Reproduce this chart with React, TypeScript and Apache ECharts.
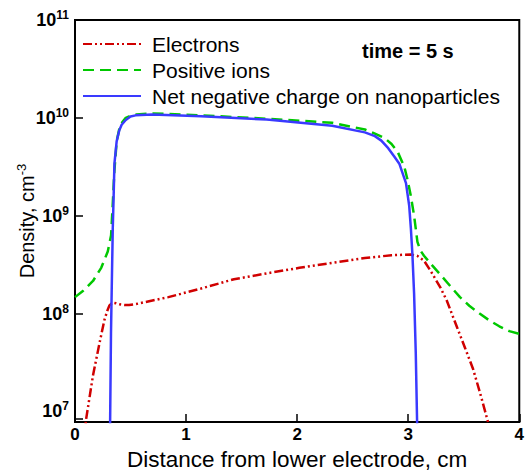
import React, { useEffect, useRef } from "react";
import * as echarts from "echarts";

// x in cm, density in cm^-3
const electronsX = [0.08, 0.1, 0.162, 0.221, 0.265, 0.29, 0.31, 0.339, 0.37, 0.4, 0.45, 0.487, 0.55, 0.634, 0.841, 1.135, 1.431, 1.726, 2.02, 2.316, 2.61, 2.85, 2.95, 3.024, 3.08, 3.142, 3.2, 3.289, 3.348, 3.437, 3.51, 3.584, 3.65, 3.717, 3.75];
const electronsY = [5.0e6, 8.3e6, 2.33e7, 5.0e7, 8.6e7, 1.06e8, 1.21e8, 1.29e8, 1.27e8, 1.24e8, 1.22e8, 1.22e8, 1.25e8, 1.31e8, 1.47e8, 1.8e8, 2.24e8, 2.57e8, 2.93e8, 3.29e8, 3.69e8, 3.94e8, 3.98e8, 4.0e8, 3.9e8, 3.47e8, 2.75e8, 1.85e8, 1.35e8, 7.36e7, 4.5e7, 2.71e7, 1.5e7, 7.9e6, 5.6e6];

const ionsX = [0, 0.074, 0.162, 0.236, 0.295, 0.325, 0.339, 0.354, 0.375, 0.4, 0.425, 0.457, 0.5, 0.55, 0.7, 1.135, 1.726, 2.316, 2.61, 2.7, 2.788, 2.85, 2.906, 2.965, 2.994, 3.024, 3.053, 3.083, 3.11, 3.142, 3.2, 3.289, 3.38, 3.466, 3.55, 3.643, 3.73, 3.82, 3.91, 4.0];
const ionsY = [1.47e8, 1.71e8, 2.15e8, 2.93e8, 4.3e8, 6.3e8, 1.26e9, 2.8e9, 5.75e9, 7.8e9, 9.0e9, 1.0e10, 1.05e10, 1.08e10, 1.11e10, 1.06e10, 9.8e9, 8.9e9, 7.6e9, 6.9e9, 6.2e9, 5.4e9, 4.47e9, 3.16e9, 2.33e9, 1.58e9, 1.0e9, 5.4e8, 4.4e8, 3.9e8, 3.25e8, 2.5e8, 1.9e8, 1.47e8, 1.2e8, 1.0e8, 8.5e7, 7.4e7, 6.6e7, 6.2e7];

const netX = [0.313, 0.324, 0.33, 0.34, 0.348, 0.355, 0.375, 0.398, 0.42, 0.457, 0.5, 0.546, 0.693, 1.135, 1.726, 2.316, 2.61, 2.7, 2.758, 2.82, 2.876, 2.92, 2.98, 3.009, 3.024, 3.038, 3.053, 3.068, 3.085];
const netY = [3.2e6, 6.3e7, 1.6e8, 7.4e8, 1.6e9, 3.4e9, 5.75e9, 7.4e9, 8.5e9, 9.5e9, 1.03e10, 1.06e10, 1.08e10, 1.04e10, 9.6e9, 8.3e9, 7.1e9, 6.5e9, 5.85e9, 4.9e9, 4.0e9, 3.4e9, 2.15e9, 1.26e9, 7.4e8, 4.0e8, 1.6e8, 4.0e7, 4.0e6];

const xTicks = [0, 1, 2, 3, 4];
const yLabelExponents = [7, 8, 9, 10, 11];
const yTickExponents = [6.92, 8, 9, 10, 11];

const FONT = "'Liberation Sans', Arial, Helvetica, sans-serif";

const toPairs = (xs: number[], ys: number[]) => xs.map((x, i) => [x, Math.log10(ys[i])]);

export default function App() {
  const ref = useRef<HTMLDivElement>(null);
  useEffect(() => {
    if (!ref.current) return;
    const chart = echarts.init(ref.current, null, { renderer: "svg" });
    chart.setOption({
      animation: false,
      backgroundColor: "#fff",
      textStyle: { fontFamily: FONT },
      grid: {
        left: 75,
        top: 20,
        width: 451,
        height: 411,
        show: true,
        borderColor: "#000",
        borderWidth: 2,
        containLabel: false,
      },
      legend: {
        orient: "vertical",
        left: 82,
        top: 33,
        itemWidth: 58,
        itemHeight: 14,
        itemGap: 4,
        padding: 0,
        itemStyle: { opacity: 0, borderWidth: 0 },
        data: ["Electrons", "Positive ions", "Net negative charge on nanoparticles"],
        textStyle: { fontSize: 21, lineHeight: 22, color: "#000", fontFamily: FONT, padding: [0, 0, 0, 6] },
      },
      xAxis: {
        type: "value",
        min: 0,
        max: 4,
        interval: 1,
        name: "Distance from lower electrode, cm",
        nameLocation: "middle",
        nameGap: 22,
        nameTextStyle: { fontSize: 22.5, color: "#000", fontFamily: FONT },
        axisLine: { show: true, lineStyle: { color: "#000", width: 2 } },
        axisTick: { show: true, inside: true, length: 8, lineStyle: { color: "#000", width: 1.5 }, customValues: xTicks },
        axisLabel: { color: "#000", fontSize: 17, fontWeight: "bold", margin: 4, fontFamily: FONT, customValues: xTicks },
        splitLine: { show: false },
      },
      yAxis: {
        type: "value",
        min: 6.89,
        max: 11,
        name: "{a|Density, cm}{b|-3}",
        nameLocation: "middle",
        nameRotate: 90,
        nameGap: 36,
        nameMoveOverlap: false,
        nameTextStyle: {
          color: "#000",
          rich: {
            a: { fontSize: 20, fontFamily: FONT, color: "#000", lineHeight: 24 },
            b: { fontSize: 13, fontFamily: FONT, color: "#000", verticalAlign: "top", lineHeight: 13 },
          },
        },
        axisLine: { show: true, lineStyle: { color: "#000", width: 2 } },
        axisTick: { show: true, inside: true, length: 8, lineStyle: { color: "#000", width: 1.5 }, customValues: yTickExponents },
        axisLabel: {
          customValues: yLabelExponents,
          margin: 6,
          formatter: (v: number) => `{b|10}{e|${Math.round(v)}}`,
          rich: {
            b: { fontSize: 18, fontWeight: "bold", fontFamily: FONT, color: "#000", lineHeight: 22 },
            e: { fontSize: 12, fontWeight: "bold", fontFamily: FONT, color: "#000", verticalAlign: "top", lineHeight: 12 },
          },
        },
        splitLine: { show: false },
      },
      graphic: [
        {
          type: "text",
          left: 362,
          top: 41,
          style: { text: "time = 5 s", font: `bold 20px ${FONT}`, fill: "#000" },
        },
      ],
      series: [
        {
          name: "Electrons",
          type: "line",
          data: toPairs(electronsX, electronsY),
          symbol: "none",
          smooth: false,
          clip: true,
          lineStyle: { color: "#d00000", width: 2.5, type: [9, 3, 2, 3, 2, 3] },
          itemStyle: { color: "#d00000" },
        },
        {
          name: "Positive ions",
          type: "line",
          data: toPairs(ionsX, ionsY),
          symbol: "none",
          smooth: false,
          clip: true,
          lineStyle: { color: "#00c800", width: 2.5, type: [11, 6] },
          itemStyle: { color: "#00c800" },
        },
        {
          name: "Net negative charge on nanoparticles",
          type: "line",
          data: toPairs(netX, netY),
          symbol: "none",
          smooth: false,
          clip: true,
          lineStyle: { color: "#3a3aff", width: 2.5, type: "solid" },
          itemStyle: { color: "#3a3aff" },
        },
      ],
    });
    return () => chart.dispose();
  }, []);
  return <div ref={ref} style={{ position: "absolute", left: 0, top: 0, width: 527, height: 476 }} />;
}
